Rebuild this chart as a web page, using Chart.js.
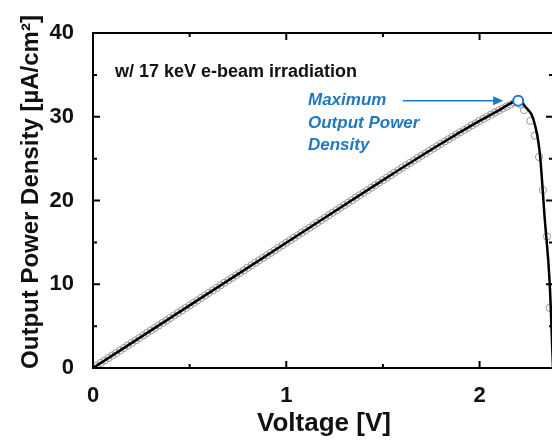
<!DOCTYPE html>
<html>
<head>
<meta charset="utf-8">
<script src="https://cdn.jsdelivr.net/npm/chart.js@4"></script>
<style>
  html, body { margin: 0; padding: 0; background: #fff; overflow: hidden; }
  #wrap { width: 560px; height: 441px; }
</style>
</head>
<body>
<div id="wrap"><canvas id="powerChart"></canvas></div>
<script>
// measured points (V, µA/cm²)
const voltage = [
    0.00, 0.02, 0.04, 0.06, 0.08, 0.10, 0.12, 0.14, 0.16, 0.18,
    0.20, 0.22, 0.24, 0.26, 0.28, 0.30, 0.32, 0.34, 0.36, 0.38,
    0.40, 0.42, 0.44, 0.46, 0.48, 0.50, 0.52, 0.54, 0.56, 0.58,
    0.60, 0.62, 0.64, 0.66, 0.68, 0.70, 0.72, 0.74, 0.76, 0.78,
    0.80, 0.82, 0.84, 0.86, 0.88, 0.90, 0.92, 0.94, 0.96, 0.98,
    1.00, 1.02, 1.04, 1.06, 1.08, 1.10, 1.12, 1.14, 1.16, 1.18,
    1.20, 1.22, 1.24, 1.26, 1.28, 1.30, 1.32, 1.34, 1.36, 1.38,
    1.40, 1.42, 1.44, 1.46, 1.48, 1.50, 1.52, 1.54, 1.56, 1.58,
    1.60, 1.62, 1.64, 1.66, 1.68, 1.70, 1.72, 1.74, 1.76, 1.78,
    1.80, 1.82, 1.84, 1.86, 1.88, 1.90, 1.92, 1.94, 1.96, 1.98,
    2.00, 2.02, 2.04, 2.06, 2.08, 2.10, 2.12, 2.14, 2.16, 2.18,
    2.20, 2.215, 2.230, 2.263, 2.286, 2.308, 2.328, 2.349, 2.363
];
const power = [
    0.00, 0.30, 0.60, 0.90, 1.20, 1.50, 1.79, 2.09, 2.39, 2.69,
    2.99, 3.29, 3.59, 3.89, 4.19, 4.49, 4.78, 5.08, 5.38, 5.68,
    5.98, 6.28, 6.58, 6.88, 7.18, 7.48, 7.77, 8.07, 8.37, 8.67,
    8.97, 9.27, 9.57, 9.87, 10.17, 10.47, 10.76, 11.06, 11.36, 11.66,
    11.96, 12.26, 12.56, 12.86, 13.16, 13.46, 13.75, 14.05, 14.35, 14.65,
    14.95, 15.25, 15.55, 15.85, 16.15, 16.45, 16.74, 17.04, 17.34, 17.64,
    17.94, 18.24, 18.54, 18.84, 19.14, 19.44, 19.73, 20.03, 20.33, 20.63,
    20.93, 21.23, 21.53, 21.83, 22.13, 22.43, 22.72, 23.02, 23.32, 23.62,
    23.92, 24.20, 24.49, 24.77, 25.07, 25.35, 25.63, 25.93, 26.21, 26.49,
    26.77, 27.05, 27.32, 27.60, 27.88, 28.16, 28.42, 28.69, 28.97, 29.22,
    29.50, 29.75, 30.01, 30.26, 30.51, 30.77, 30.99, 31.22, 31.45, 31.68,
    31.90, 31.45, 30.80, 29.50, 27.75, 25.20, 21.25, 15.70, 7.20
];

// fitted curve
const fitVoltage = [0, 0.5, 1.0, 1.5, 1.8, 2.0, 2.1, 2.2, 2.24, 2.277, 2.311, 2.337, 2.363, 2.38];
const fitPower = [0, 7.48, 14.95, 22.43, 26.77, 29.50, 30.77, 31.90, 31.10, 29.80, 25.80, 17.90, 10.10, 0];

// maximum output power point
const maxVoltage = 2.20;
const maxPower = 31.90;

const xTicks = [0, 1, 2];
const xMinorTicks = [0.5, 1.5];
const yTicks = [0, 10, 20, 30, 40];
const yMinorTicks = [5, 15, 25, 35];

const FONT = "'Liberation Sans', Arial, sans-serif";
const BLUE = '#1f78c0';

const toXY = (xs, ys) => xs.map((x, i) => ({ x: x, y: ys[i] }));

// frame, inward ticks, titles and notes
const decorations = {
    id: 'decorations',
    afterDraw(chart) {
        const ctx = chart.ctx;
        const a = chart.chartArea;
        const xs = chart.scales.x;
        const ys = chart.scales.y;
        ctx.save();

        ctx.strokeStyle = '#000';
        ctx.lineWidth = 2;
        ctx.strokeRect(a.left, a.top, a.right - a.left, a.bottom - a.top);

        ctx.lineWidth = 2;
        ctx.beginPath();
        const tickX = (v, len) => {
            const px = xs.getPixelForValue(v);
            ctx.moveTo(px, a.bottom); ctx.lineTo(px, a.bottom - len);
            ctx.moveTo(px, a.top); ctx.lineTo(px, a.top + len);
        };
        const tickY = (v, len) => {
            const py = ys.getPixelForValue(v);
            ctx.moveTo(a.left, py); ctx.lineTo(a.left + len, py);
            ctx.moveTo(a.right, py); ctx.lineTo(a.right - len, py);
        };
        xTicks.forEach(v => tickX(v, 7));
        xMinorTicks.forEach(v => tickX(v, 4));
        yTicks.forEach(v => tickY(v, 7));
        yMinorTicks.forEach(v => tickY(v, 4));
        ctx.stroke();

        // axis titles
        ctx.fillStyle = '#111';
        ctx.textAlign = 'center';
        ctx.textBaseline = 'alphabetic';
        ctx.font = 'bold 26px ' + FONT;
        ctx.fillText('Voltage [V]', 324, 431);

        ctx.save();
        ctx.translate(38, 192);
        ctx.rotate(-Math.PI / 2);
        ctx.font = 'bold 24px ' + FONT;
        ctx.fillText('Output Power Density [µA/cm²]', 0, 0);
        ctx.restore();

        ctx.textAlign = 'left';
        ctx.font = 'bold 18px ' + FONT;
        ctx.fillText('w/ 17 keV e-beam irradiation', 115, 77);

        // maximum point note with arrow
        ctx.fillStyle = BLUE;
        ctx.font = 'italic bold 17px ' + FONT;
        ctx.fillText('Maximum', 308, 105);
        ctx.fillText('Output Power', 308, 128);
        ctx.fillText('Density', 308, 150);

        const tipX = xs.getPixelForValue(maxVoltage) - 15;
        const tipY = ys.getPixelForValue(maxPower);
        ctx.strokeStyle = BLUE;
        ctx.lineWidth = 1.5;
        ctx.beginPath();
        ctx.moveTo(403, tipY);
        ctx.lineTo(tipX - 8, tipY);
        ctx.stroke();
        ctx.beginPath();
        ctx.moveTo(tipX, tipY);
        ctx.lineTo(tipX - 10, tipY - 4.5);
        ctx.lineTo(tipX - 10, tipY + 4.5);
        ctx.closePath();
        ctx.fill();

        ctx.restore();
    }
};

new Chart(document.getElementById('powerChart'), {
    type: 'scatter',
    data: {
        datasets: [
            {
                label: 'Maximum',
                data: [{ x: maxVoltage, y: maxPower }],
                pointRadius: 5,
                pointBorderWidth: 2,
                pointBorderColor: BLUE,
                pointBackgroundColor: '#fff',
                order: 0
            },
            {
                label: 'Fit',
                data: toXY(fitVoltage, fitPower),
                showLine: true,
                borderColor: '#000',
                borderWidth: 2.5,
                pointRadius: 0,
                cubicInterpolationMode: 'monotone',
                order: 1
            },
            {
                label: 'Measured',
                data: toXY(voltage, power),
                pointRadius: 3.6,
                pointBorderWidth: 1,
                pointBorderColor: '#999',
                pointBackgroundColor: 'rgba(0,0,0,0)',
                order: 2
            }
        ]
    },
    options: {
        responsive: true,
        maintainAspectRatio: false,
        animation: false,
        layout: { padding: { top: 33, right: 6, left: 0, bottom: 0 } },
        plugins: {
            legend: { display: false },
            tooltip: { enabled: false }
        },
        scales: {
            x: {
                type: 'linear',
                min: 0,
                max: 2.38,
                grid: { display: false },
                border: { display: false },
                afterBuildTicks: s => { s.ticks = xTicks.map(v => ({ value: v })); },
                afterFit: s => { s.height = 73; },
                ticks: {
                    padding: 7,
                    color: '#111',
                    font: { family: FONT, size: 22, weight: 'bold' }
                }
            },
            y: {
                min: 0,
                max: 40,
                grid: { display: false },
                border: { display: false },
                afterBuildTicks: s => { s.ticks = yTicks.map(v => ({ value: v })); },
                afterFit: s => { s.width = 93; },
                ticks: {
                    padding: 11,
                    color: '#111',
                    font: { family: FONT, size: 22, weight: 'bold' }
                }
            }
        }
    },
    plugins: [decorations]
});
</script>
</body>
</html>
